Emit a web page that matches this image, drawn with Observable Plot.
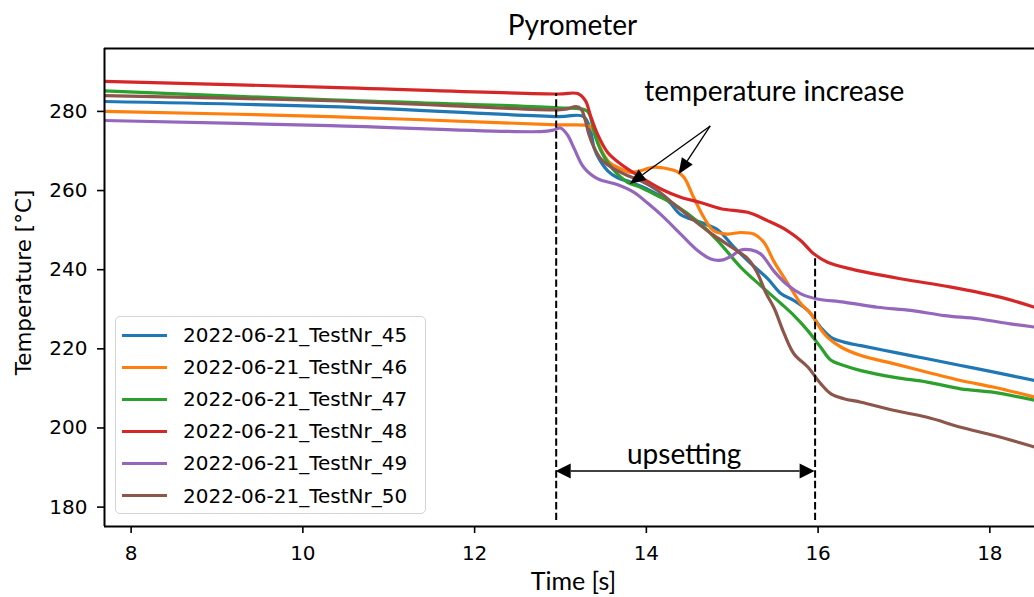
<!DOCTYPE html>
<html><head><meta charset="utf-8">
<script src="https://cdn.jsdelivr.net/npm/d3@7"></script>
<script src="https://cdn.jsdelivr.net/npm/@observablehq/plot@0.6"></script>
<style>
body{margin:0;background:#fff;}
#wrap{position:relative;width:1034px;height:597px;overflow:hidden;}
#legend{position:absolute;left:115px;top:316px;width:309px;height:196px;border:1.5px solid #d4d4d4;border-radius:5px;background:rgba(255,255,255,0.8);font-family:"DejaVu Sans";font-size:20px;color:#000;}
.row{position:absolute;left:0;height:32px;display:flex;align-items:center;white-space:nowrap;}
.sw{width:45px;height:3px;margin-left:6px;margin-right:16px;}
</style></head><body><div id="wrap"><div id="legend"></div></div>
<script>
// ---- data ----
const seriesNames = ["2022-06-21_TestNr_45","2022-06-21_TestNr_46","2022-06-21_TestNr_47","2022-06-21_TestNr_48","2022-06-21_TestNr_49","2022-06-21_TestNr_50"];
const seriesColors = ["#1f77b4","#ff7f0e","#2ca02c","#d62728","#9467bd","#8c564b"];

const time45 = [7.69,10.32,12.97,13.27,13.35,13.39,13.45,13.55,13.66,13.82,14.01,14.25,14.40,14.63,14.83,15.02,15.22,15.41,15.57,15.72,15.88,16.03,16.15,16.30,16.50,16.89,17.27,17.66,18.05,18.52];
const temp45 = [282.5,281.2,278.7,278.7,275.1,270.9,268.0,265.0,263.3,262.1,260.4,257.4,253.9,252.0,250.1,245.7,241.5,237.8,233.9,232.2,229.7,225.4,222.9,221.7,220.8,219.1,217.5,215.8,214.1,212.0];

const time46 = [7.69,10.32,12.97,13.29,13.35,13.43,13.49,13.57,13.70,13.82,13.93,14.09,14.25,14.36,14.44,14.55,14.67,14.78,14.94,15.10,15.25,15.37,15.48,15.60,15.72,15.80,15.92,16.03,16.11,16.27,16.50,16.89,17.27,17.66,18.05,18.52];
const temp46 = [280.0,278.7,276.6,276.5,276.1,272.6,269.6,267.1,265.5,264.6,265.0,265.9,265.5,264.8,263.3,258.3,253.2,249.9,249.0,249.4,249.0,246.9,242.3,238.1,234.0,231.4,228.8,225.0,222.9,220.4,218.3,216.2,214.1,212.0,210.3,207.8];

const time47 = [7.69,10.32,12.97,13.31,13.37,13.41,13.47,13.55,13.66,13.78,13.93,14.13,14.32,14.63,14.86,15.10,15.33,15.57,15.72,15.88,16.03,16.15,16.30,16.50,16.89,17.27,17.66,18.05,18.52];
const temp47 = [285.2,282.9,280.9,280.1,276.8,273.4,270.1,267.1,264.2,262.1,260.8,258.7,256.6,251.6,246.6,240.6,236.0,231.4,228.4,224.6,220.4,217.1,215.8,214.5,212.8,211.6,209.9,209.0,207.0];

const time48 = [7.69,10.32,12.97,13.20,13.29,13.35,13.43,13.55,13.70,13.94,14.17,14.40,14.63,14.87,15.18,15.41,15.64,15.80,15.95,16.11,16.38,16.96,17.55,18.13,18.52];
const temp48 = [287.6,286.1,284.4,284.5,282.7,278.9,274.3,269.6,266.7,263.3,260.4,258.3,257.0,255.4,254.5,252.4,249.9,247.3,244.0,241.9,240.2,237.7,235.6,233.0,230.5];

const time49 = [7.69,10.32,12.77,12.92,13.00,13.08,13.16,13.27,13.43,13.66,13.86,14.01,14.17,14.40,14.60,14.75,14.87,14.99,15.10,15.22,15.33,15.49,15.64,15.80,15.99,16.30,16.69,17.08,17.47,17.86,18.24,18.52];
const temp49 = [277.7,276.4,274.9,275.3,275.8,274.1,270.6,265.9,263.0,261.5,259.5,256.9,253.9,249.0,244.8,242.7,242.4,243.4,245.0,245.0,244.0,239.5,236.2,233.9,232.6,231.8,230.5,229.7,228.4,227.6,226.3,225.5];

const time50 = [7.69,10.32,12.97,13.08,13.18,13.24,13.29,13.33,13.39,13.47,13.59,13.78,13.93,14.13,14.32,14.56,14.79,15.02,15.18,15.29,15.39,15.49,15.60,15.72,15.88,16.03,16.15,16.30,16.50,16.89,17.27,17.66,18.05,18.52];
const temp50 = [284.0,282.7,280.4,280.6,281.2,280.6,277.7,274.3,270.9,268.0,265.9,263.8,262.5,260.0,256.6,252.4,248.6,245.3,242.8,239.3,234.2,230.2,224.1,218.7,215.4,211.2,208.6,207.4,206.5,204.4,202.7,200.2,198.1,195.2];

const xTicks = [8,10,12,14,16,18];
const yTicks = [180,200,220,240,260,280];
const xDomain = [7.69, 18.52];
const yDomain = [175.1, 295.9];

// annotations (data units)
const upsetStart = 12.95, upsetEnd = 15.965;
const dashTops = [284.5, 243.1];
const dashBottom = 176.6;
const upsetArrowY = 189.0;
const upsetLabel = "upsetting";
const upsetLabelPos = {x: 14.44, y: 190.9};
const incLabel = "temperature increase";
const incLabelPos = {x: 15.49, y: 285.0};
const incArrows = [
  {x1: 14.75, y1: 276.2, x2: 13.81, y2: 261.5},
  {x1: 14.75, y1: 276.2, x2: 14.38, y2: 264.0}
];

const titleText = "Pyrometer";
const xLabel = "Time [s]";
const yLabel = "Temperature [°C]";

// ---- build table ----
const times = [time45,time46,time47,time48,time49,time50];
const temps = [temp45,temp46,temp47,temp48,temp49,temp50];
const rows = [];
seriesNames.forEach((name, i) => {
  times[i].forEach((t, j) => rows.push({series: name, time: t, temp: temps[i][j]}));
});

function arrowMark(data, {headLen = 15, headWidth = 13, both = false, strokeWidth = 1.3} = {}) {
  return (index, scales) => {
    const g = d3.create("svg:g");
    for (const d of data) {
      const x1 = scales.x(d.x1), y1 = scales.y(d.y1), x2 = scales.x(d.x2), y2 = scales.y(d.y2);
      const dx = x2 - x1, dy = y2 - y1, L = Math.hypot(dx, dy);
      const ux = dx / L, uy = dy / L, px = -uy, py = ux;
      const head = (tx, ty, sx, sy) => {
        const bx = tx - sx * headLen, by = ty - sy * headLen;
        return `${tx},${ty} ${bx + px * headWidth / 2},${by + py * headWidth / 2} ${bx - px * headWidth / 2},${by - py * headWidth / 2}`;
      };
      const sx = both ? x1 + ux * headLen : x1, sy = both ? y1 + uy * headLen : y1;
      g.append("line").attr("x1", sx).attr("y1", sy)
        .attr("x2", x2 - ux * headLen).attr("y2", y2 - uy * headLen)
        .attr("stroke", "#000").attr("stroke-width", strokeWidth);
      g.append("polygon").attr("points", head(x2, y2, ux, uy)).attr("fill", "#000");
      if (both) g.append("polygon").attr("points", head(x1, y1, -ux, -uy)).attr("fill", "#000");
    }
    return g.node();
  };
}

const chart = Plot.plot({
  width: 1034,
  height: 597,
  marginLeft: 104,
  marginRight: 0,
  marginTop: 48,
  marginBottom: 71,
  style: {fontFamily: "DejaVu Sans", fontSize: "20px", color: "#000", background: "#fff", overflow: "visible"},
  x: {domain: xDomain},
  y: {domain: yDomain},
  color: {domain: seriesNames, range: seriesColors},
  marks: [
    Plot.axisX({ticks: xTicks, tickSize: 7, tickPadding: 12, fontSize: 20, strokeWidth: 1.6, label: null}),
    Plot.axisY({ticks: yTicks, tickSize: 7, tickPadding: 10, fontSize: 20, strokeWidth: 1.6, label: null}),
    Plot.line(rows, {x: "time", y: "temp", z: "series", stroke: "series", strokeWidth: 3.2, curve: "catmull-rom", clip: true, strokeLinejoin: "round"}),
    Plot.ruleX([upsetStart, upsetEnd], {x: d => d, y1: (d, i) => dashBottom, y2: (d, i) => dashTops[i], stroke: "#000", strokeWidth: 2, strokeDasharray: "7.4,3.2"}),
    arrowMark([{x1: upsetStart, y1: upsetArrowY, x2: upsetEnd, y2: upsetArrowY}], {both: true, headLen: 15, headWidth: 15, strokeWidth: 1.3}),
    arrowMark(incArrows, {headLen: 16, headWidth: 13, strokeWidth: 1.3}),
    Plot.text([upsetLabel], {x: upsetLabelPos.x, y: upsetLabelPos.y, fontFamily: "Lato", fontSize: 28, fill: "#000", lineAnchor: "bottom"}),
    Plot.text([incLabel], {x: incLabelPos.x, y: incLabelPos.y, fontFamily: "Lato", fontSize: 28, fill: "#000"}),
    Plot.ruleY([yDomain[1]], {stroke: "#000", strokeWidth: 2}),
    Plot.ruleY([yDomain[0]], {stroke: "#000", strokeWidth: 2}),
    Plot.ruleX([xDomain[0]], {stroke: "#000", strokeWidth: 2}),
    Plot.text([titleText], {frameAnchor: "top", dx: 3, dy: -33, fontFamily: "Lato", fontSize: 28, fill: "#000"}),
    Plot.text([xLabel], {frameAnchor: "bottom", dx: 4, dy: 63, fontFamily: "Lato", fontSize: 25, fill: "#000"}),
    Plot.text([yLabel], {frameAnchor: "left", textAnchor: "middle", dx: -80, dy: -5, rotate: -90, fontFamily: "DejaVu Sans", fontSize: 21.5, fill: "#000"})
  ]
});
document.getElementById("wrap").prepend(chart);

const legend = document.getElementById("legend");
seriesNames.forEach((name, i) => {
  const row = document.createElement("div");
  row.className = "row";
  row.style.top = (2 + i * 32.1) + "px";
  const sw = document.createElement("div");
  sw.className = "sw";
  sw.style.background = seriesColors[i];
  const lab = document.createElement("span");
  lab.textContent = name;
  row.appendChild(sw);
  row.appendChild(lab);
  legend.appendChild(row);
});
</script></body></html>
